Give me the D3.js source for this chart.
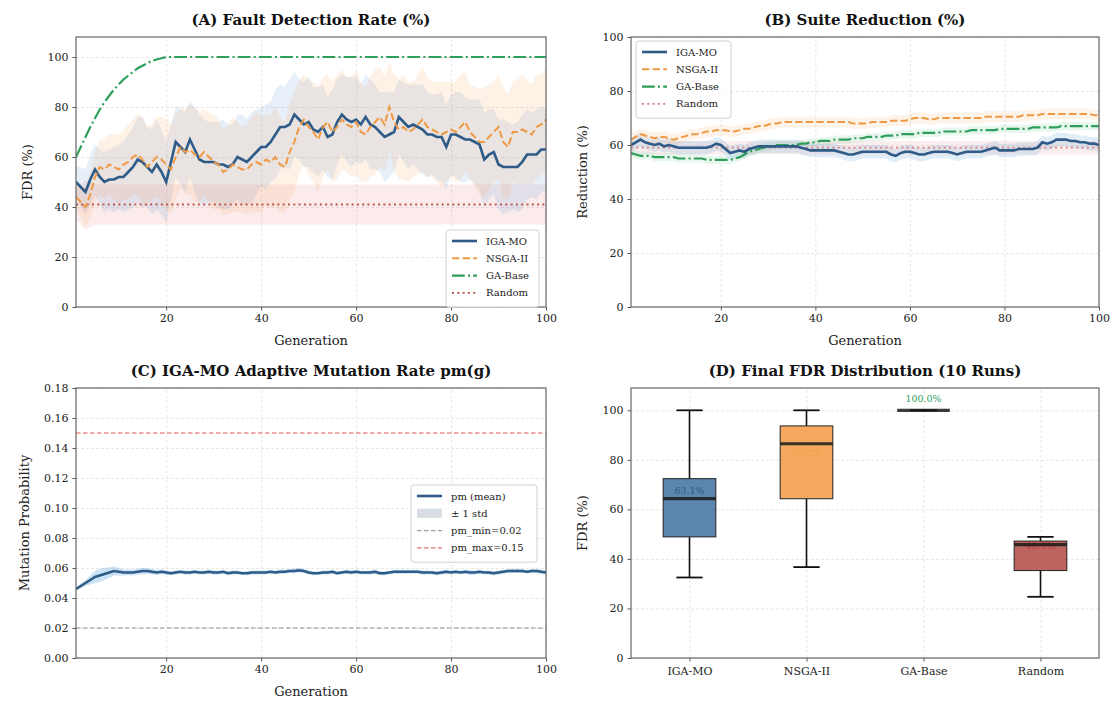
<!DOCTYPE html>
<html>
<head>
<meta charset="utf-8">
<script src="https://cdn.jsdelivr.net/npm/d3@7"></script>
<style>
  body { margin: 0; background: #fff; }
  svg { font-family: "DejaVu Serif", serif; }
</style>
</head>
<body>
<script>
// generations on the x axis
const gens = d3.range(1, 101);

// (A) fault detection rate, mean per generation
const igaFdr = [50,48,46,51,55,52,50,51,51,52, 52,54,56,59,58,56,54,57,54,50,
  58,66,64,62,67,63,59,58,58,58, 57,57,56,57,60,59,58,60,62,64,
  64,66,69,72,72,73,77,75,73,74, 71,70,72,68,69,74,77,75,74,75,
  73,76,73,72,70,68,69,70,76,74, 72,73,72,71,69,69,68,68,64,69,
  69,68,67,67,66,65,59,61,62,57, 56,56,56,56,58,61,61,61,63,63];
const nsgaFdr = [44,42,40,45,52,56,55,57,56,55, 57,58,60,61,59,56,58,60,59,57,
  55,60,64,62,63,61,60,62,60,58, 57,54,55,57,56,55,55,57,58,57,
  59,58,60,57,56,62,66,72,75,72, 70,67,72,74,70,72,75,73,72,74,
  70,69,72,74,76,73,80,74,71,72, 70,71,73,75,72,71,70,69,70,71,
  70,72,74,70,68,66,66,68,70,72, 66,64,70,70,71,70,69,72,73,75];
const igaFdrStd = [6,8,9,10,10,11,12,12,13,13, 14,15,16,17,18,16,17,18,17,16,
  15,14,15,16,15,17,18,17,16,16, 17,18,17,16,17,18,17,18,17,16,
  17,16,18,17,16,18,17,16,17,18, 17,18,17,16,18,17,16,17,18,17,
  16,17,18,17,16,18,17,16,15,16, 17,16,17,18,17,16,17,18,17,16,
  17,18,17,16,17,18,19,18,17,18, 19,18,17,18,19,18,17,18,17,16];
const nsgaFdrStd = [5,6,8,9,10,11,12,12,13,14, 14,15,15,16,17,16,15,16,17,18,
  18,17,16,17,18,19,18,17,18,19, 18,17,18,19,18,17,18,19,20,19,
  18,19,20,19,18,19,20,19,18,19, 20,21,20,19,20,21,20,19,20,21,
  20,19,20,21,20,19,18,19,20,21, 20,19,20,21,20,19,20,21,20,19,
  20,21,20,19,20,21,22,21,20,21, 22,21,20,21,22,21,20,21,20,21];
const gaFdrGens = [1,2,3,4,5,6,7,8,9,10,11,12,13,14,15,16,17,18,19,20,100];
const gaFdr = [60,64,68,72,75.5,79,82,84.5,87,89,91,92.5,94,95.5,96.5,97.5,98.5,99,99.5,100,100];
const randFdrGens = [1,2,3,4,5,6,8,10,15,20,30,40,50,60,70,80,90,100];
const randFdr = [41,41,41,41,41,41,41,41,41,41,41,41,41,41,41,41,41,41];
const randFdrStd = [6,8,10,9,8,8,8,8,8,8,8,8,8,8,8,8,8,8];

// (B) suite reduction, mean per generation
const igaRed = [60,61,62,61,60.5,60,60.5,59.5,60,59.5, 59,59,59,59,59,59,59,59.5,60.5,60,
  58.5,57,57.5,58,57.5,58.5,59,59.5,59.5,59.5, 59.5,59.5,59.5,59.5,59.5,59.5,59,58.5,58,58,
  58,58,58,58,57.5,57,56.5,56.5,57,57.5, 57.5,57.5,57.5,57.5,57.5,56.5,56,57,57.5,57.5,
  57,56.5,56.5,57,57.5,57.5,57.5,57.5,57,56.5, 57,57.5,57.5,57.5,57.5,58,58.5,59,58,58,
  58,58,58.5,58.5,58.5,58.5,59,61,60.5,61, 62,62,62,61.5,61.5,61,61,60.5,60.5,60];
const nsgaRed = [62,63,64,63.5,63,62.5,63,63,62.5,62, 62.5,63,63.5,64,64,64.5,65,65,65.5,65.5,
  65.5,65,65,65.5,66,66,66.5,67,67,67.5, 68,68,68.5,68.5,68.5,68.5,68.5,68.5,68.5,68.5,
  68.5,68.5,68.5,68.5,68.5,68.5,68.5,68,68,68, 68,68.5,68.5,68.5,68.5,69,69,69,69,69.5,
  70,70,70,69.5,69.5,70,70,70,70,70, 70,70,70,70,70,70.5,70.5,70.5,70.5,70.5,
  70.5,70.5,70.5,71,71,71,71,71.5,71.5,71.5, 71.5,71.5,71.5,71.5,71.5,71.5,71.5,71.5,71,71];
const gaRed = [57,56.5,56,56,56,55.5,55.5,55.5,55.5,55.5, 55,55,55,55,55,55,54.5,54.5,54.5,54.5,
  54.5,54.5,55,55.5,56.5,57.5,58,58.5,59,59.5, 59.5,60,60,60,60,60,60.5,60.5,61,61,
  61.5,61.5,61.5,62,62,62,62,62.5,62.5,62.5, 63,63,63,63,63.5,63.5,63.5,64,64,64,
  64,64.5,64.5,64.5,64.5,64.5,65,65,65,65, 65,65,65.5,65.5,65.5,65.5,65.5,65.5,66,66,
  66,66,66,66,66,66.5,66.5,66.5,66.5,66.5, 66.5,67,67,67,67,67,67,67,67,67];
const randRedGens = [1,100];
const randRed = [59,59];
const redStd = { iga: 2.5, nsga: 2, ga: 1.5, rand: 2.5 };

// (C) adaptive mutation rate of IGA-MO
const pmMean = [0.046,0.048,0.050,0.052,0.054,0.055,0.056,0.057,0.058,0.0575,
  0.057,0.057,0.057,0.0575,0.058,0.058,0.0575,0.057,0.0575,0.057,
  0.0565,0.057,0.0575,0.057,0.057,0.0575,0.057,0.057,0.0575,0.057,
  0.057,0.0575,0.0565,0.057,0.057,0.0565,0.0565,0.057,0.057,0.057,
  0.057,0.0575,0.057,0.0575,0.0575,0.058,0.058,0.0585,0.058,0.057,
  0.0565,0.0565,0.057,0.057,0.0575,0.0565,0.057,0.0575,0.057,0.0575,
  0.057,0.057,0.057,0.0575,0.0565,0.0565,0.057,0.0575,0.0575,0.0575,
  0.0575,0.0575,0.0575,0.057,0.057,0.057,0.0565,0.057,0.0575,0.057,
  0.0575,0.057,0.0575,0.057,0.057,0.0575,0.057,0.057,0.0565,0.057,
  0.0575,0.058,0.058,0.058,0.058,0.0575,0.058,0.058,0.0575,0.057];
const pmStd = [0.001,0.0015,0.002,0.003,0.004,0.0045,0.004,0.0035,0.003,0.0025,
  0.002,0.002,0.0018,0.002,0.0022,0.002,0.0018,0.0016,0.0015,0.0015,
  0.0013,0.0014,0.0012,0.0015,0.0013,0.0014,0.0012,0.0013,0.0015,0.0014,
  0.0013,0.0012,0.0014,0.0015,0.0013,0.0012,0.0014,0.0013,0.0015,0.0014,
  0.0013,0.0012,0.0014,0.0015,0.0013,0.0014,0.0016,0.0015,0.0013,0.0014,
  0.0013,0.0012,0.0014,0.0015,0.0013,0.0012,0.0014,0.0013,0.0015,0.0014,
  0.0013,0.0012,0.0014,0.0015,0.0013,0.0014,0.0012,0.0013,0.0015,0.0014,
  0.0013,0.0012,0.0014,0.0015,0.0013,0.0012,0.0014,0.0013,0.0015,0.0014,
  0.0013,0.0012,0.0014,0.0015,0.0013,0.0014,0.0012,0.0013,0.0015,0.0014,
  0.0013,0.0012,0.0014,0.0015,0.0013,0.0012,0.0014,0.0013,0.0015,0.0014];
const pmMin = 0.02, pmMax = 0.15;

// (D) final FDR over 10 runs
const methods = ['IGA-MO', 'NSGA-II', 'GA-Base', 'Random'];
const boxLo  = [32.5, 36.7, 100, 24.7];
const boxQ1  = [48.9, 64.3, 100, 35.3];
const boxMed = [64.3, 86.5, 100, 45.8];
const boxQ3  = [72.4, 93.7, 100, 47.2];
const boxHi  = [100, 100, 100, 48.9];
const boxMean = [63.1, 78.2, 100.0, 40.9];

const colors = { iga: '#2E5B88', nsga: '#EE9A45', ga: '#2E9E5B', rand: '#B5473A' };
const boxFill = ['#4B79A5', '#F3A04C', '#3AA267', '#B5534B'];

let svg, frame, drawSeries, legend, clipId = 0;

svg = d3.select('body').append('svg')
  .attr('width', 1115)
  .attr('height', 704);

// axes box, grid, ticks, labels
frame = (o, x, y, xTicks, yTicks, yFmt) => {
  let g = svg.append('g');
  let w = o.w, h = o.h;
  g.append('g')
    .attr('transform', `translate(0,${o.top + h})`)
    .call(d3.axisBottom(x).tickValues(xTicks).tickSize(-h).tickFormat(''))
    .call(a => a.select('.domain').remove())
    .selectAll('line').attr('stroke', '#b0b0b0').attr('stroke-opacity', 0.3).attr('stroke-dasharray', '3,2');
  g.append('g')
    .attr('transform', `translate(${o.left},0)`)
    .call(d3.axisLeft(y).tickValues(yTicks).tickSize(-w).tickFormat(''))
    .call(a => a.select('.domain').remove())
    .selectAll('line').attr('stroke', '#b0b0b0').attr('stroke-opacity', 0.3).attr('stroke-dasharray', '3,2');

  let content = svg.append('g');
  clipId++;
  svg.append('clipPath').attr('id', 'clip' + clipId)
    .append('rect').attr('x', o.left).attr('y', o.top).attr('width', w).attr('height', h);
  content.attr('clip-path', `url(#clip${clipId})`);

  let top = svg.append('g');
  let xa = top.append('g')
    .attr('transform', `translate(0,${o.top + h})`)
    .call(d3.axisBottom(x).tickValues(xTicks).tickSize(3.5).tickSizeOuter(0).tickPadding(4));
  let ya = top.append('g')
    .attr('transform', `translate(${o.left},0)`)
    .call(d3.axisLeft(y).tickValues(yTicks).tickSize(3.5).tickSizeOuter(0).tickPadding(4).tickFormat(yFmt));
  [xa, ya].forEach(a => {
    a.select('.domain').remove();
    a.selectAll('line').attr('stroke', '#555');
    a.selectAll('text').attr('font-family', '"DejaVu Serif", serif').attr('font-size', 11).attr('fill', '#222');
  });
  top.append('rect')
    .attr('x', o.left).attr('y', o.top).attr('width', w).attr('height', h)
    .attr('fill', 'none').attr('stroke', '#666').attr('stroke-width', 1.2);

  top.append('text')
    .attr('x', o.left + w / 2).attr('y', o.top - 12)
    .attr('text-anchor', 'middle').attr('font-size', 15).attr('font-weight', 'bold')
    .attr('fill', '#111').text(o.title);
  if (o.xlabel) {
    top.append('text')
      .attr('x', o.left + w / 2).attr('y', o.top + h + 38)
      .attr('text-anchor', 'middle').attr('font-size', 13).attr('fill', '#222').text(o.xlabel);
  }
  top.append('text')
    .attr('transform', `translate(${o.ylx},${o.top + h / 2}) rotate(-90)`)
    .attr('text-anchor', 'middle').attr('font-size', 13).attr('fill', '#222').text(o.ylabel);
  return { content: content, top: top };
};

drawSeries = (g, x, y, s) => {
  let pts = s.gens.map((d, i) => ({ g: d, m: s.mean[i], sd: s.std ? s.std[i] : null }));
  if (s.std) {
    g.append('path')
      .datum(pts)
      .attr('d', d3.area().x(d => x(d.g)).y0(d => y(d.m - d.sd)).y1(d => y(d.m + d.sd)))
      .attr('fill', s.band || s.color)
      .attr('fill-opacity', s.bandOpacity || 0.15);
  }
  if (!s.width) return;
  g.append('path')
    .datum(pts)
    .attr('d', d3.line().x(d => x(d.g)).y(d => y(d.m)))
    .attr('fill', 'none')
    .attr('stroke', s.color)
    .attr('stroke-width', s.width)
    .attr('stroke-opacity', s.opacity || 1)
    .attr('stroke-dasharray', s.dash || null);
};

legend = (x0, y0, bw, items) => {
  let lg = svg.append('g').attr('transform', `translate(${x0},${y0})`);
  lg.append('rect')
    .attr('width', bw).attr('height', items.length * 17.3 + 8)
    .attr('rx', 3).attr('fill', '#fff').attr('fill-opacity', 0.8)
    .attr('stroke', '#d0d0d0');
  items.forEach((it, i) => {
    let cy = 11 + i * 17.3;
    if (it.patch) {
      lg.append('rect').attr('x', 6).attr('y', cy - 4.5).attr('width', 25).attr('height', 9)
        .attr('fill', it.patch);
    } else {
      lg.append('line').attr('x1', 6).attr('x2', 31).attr('y1', cy).attr('y2', cy)
        .attr('stroke', it.color).attr('stroke-width', it.width)
        .attr('stroke-opacity', it.opacity || 1)
        .attr('stroke-dasharray', it.dash || null);
    }
    lg.append('text').attr('x', 40).attr('y', cy + 3.5)
      .attr('font-size', 10).attr('fill', '#222').text(it.name);
  });
};

const dashed = '7.4,3.2', dashdot = '12.8,3.2,2,3.2', dotted = '2,3.3';

// ---- (A)
let pA = { left: 76, top: 37, w: 470, h: 270, title: '(A) Fault Detection Rate (%)', xlabel: 'Generation', ylabel: 'FDR (%)', ylx: 32 };
let xA = d3.scaleLinear().domain([1, 100]).range([pA.left, pA.left + pA.w]);
let yA = d3.scaleLinear().domain([0, 108]).range([pA.top + pA.h, pA.top]);
let fA = frame(pA, xA, yA, [20, 40, 60, 80, 100], [0, 20, 40, 60, 80, 100], d3.format('d'));
drawSeries(fA.content, xA, yA, { gens: randFdrGens, mean: randFdr, std: randFdrStd, band: '#e07070', bandOpacity: 0.14 });
drawSeries(fA.content, xA, yA, { gens: gens, mean: igaFdr, std: igaFdrStd, band: '#5b9bd5', bandOpacity: 0.15 });
drawSeries(fA.content, xA, yA, { gens: gens, mean: nsgaFdr, std: nsgaFdrStd, band: '#f5a055', bandOpacity: 0.15 });
drawSeries(fA.content, xA, yA, { gens: gaFdrGens, mean: gaFdr, color: colors.ga, width: 2.2, dash: dashdot });
drawSeries(fA.content, xA, yA, { gens: randFdrGens, mean: randFdr, color: colors.rand, width: 1.8, dash: dotted, opacity: 0.9 });
drawSeries(fA.content, xA, yA, { gens: gens, mean: igaFdr, color: colors.iga, width: 2.6 });
drawSeries(fA.content, xA, yA, { gens: gens, mean: nsgaFdr, color: colors.nsga, width: 2, dash: dashed });
legend(446, 230, 93, [
  { name: 'IGA-MO', color: colors.iga, width: 2.6 },
  { name: 'NSGA-II', color: colors.nsga, width: 2, dash: dashed },
  { name: 'GA-Base', color: colors.ga, width: 2.2, dash: dashdot },
  { name: 'Random', color: colors.rand, width: 1.8, dash: dotted }
]);

// ---- (B)
let pB = { left: 631, top: 37, w: 468, h: 270, title: '(B) Suite Reduction (%)', xlabel: 'Generation', ylabel: 'Reduction (%)', ylx: 587 };
let xB = d3.scaleLinear().domain([1, 100]).range([pB.left, pB.left + pB.w]);
let yB = d3.scaleLinear().domain([0, 100]).range([pB.top + pB.h, pB.top]);
let fB = frame(pB, xB, yB, [20, 40, 60, 80, 100], [0, 20, 40, 60, 80, 100], d3.format('d'));
let bandOf = (m, s) => m.map(() => s);
drawSeries(fB.content, xB, yB, { gens: randRedGens, mean: randRed, std: bandOf(randRed, redStd.rand), band: '#e07070', bandOpacity: 0.12 });
drawSeries(fB.content, xB, yB, { gens: gens, mean: igaRed, std: bandOf(igaRed, redStd.iga), band: '#5b9bd5', bandOpacity: 0.18 });
drawSeries(fB.content, xB, yB, { gens: gens, mean: nsgaRed, std: bandOf(nsgaRed, redStd.nsga), band: '#f5a055', bandOpacity: 0.13 });
drawSeries(fB.content, xB, yB, { gens: gens, mean: gaRed, std: bandOf(gaRed, redStd.ga), band: '#4cc27a', bandOpacity: 0.13 });
drawSeries(fB.content, xB, yB, { gens: randRedGens, mean: randRed, color: '#d9787a', width: 1.8, dash: dotted, opacity: 0.9 });
drawSeries(fB.content, xB, yB, { gens: gens, mean: gaRed, color: colors.ga, width: 2.2, dash: dashdot });
drawSeries(fB.content, xB, yB, { gens: gens, mean: nsgaRed, color: colors.nsga, width: 2, dash: dashed });
drawSeries(fB.content, xB, yB, { gens: gens, mean: igaRed, color: colors.iga, width: 2.6 });
legend(636, 41, 95, [
  { name: 'IGA-MO', color: colors.iga, width: 2.6 },
  { name: 'NSGA-II', color: colors.nsga, width: 2, dash: dashed },
  { name: 'GA-Base', color: colors.ga, width: 2.2, dash: dashdot },
  { name: 'Random', color: '#d9787a', width: 1.8, dash: dotted }
]);

// ---- (C)
let pC = { left: 76, top: 388, w: 470, h: 270, title: '(C) IGA-MO Adaptive Mutation Rate pm(g)', xlabel: 'Generation', ylabel: 'Mutation Probability', ylx: 29 };
let xC = d3.scaleLinear().domain([1, 100]).range([pC.left, pC.left + pC.w]);
let yC = d3.scaleLinear().domain([0, 0.18]).range([pC.top + pC.h, pC.top]);
let fC = frame(pC, xC, yC, [20, 40, 60, 80, 100], d3.range(0, 0.181, 0.02), d3.format('.2f'));
[[pmMin, '#a0a0a0'], [pmMax, '#e57373']].forEach(r => {
  fC.content.append('line')
    .attr('x1', pC.left).attr('x2', pC.left + pC.w)
    .attr('y1', yC(r[0])).attr('y2', yC(r[0]))
    .attr('stroke', r[1]).attr('stroke-width', 1.3).attr('stroke-opacity', 0.8)
    .attr('stroke-dasharray', '4.5,2.5');
});
drawSeries(fC.content, xC, yC, { gens: gens, mean: pmMean, std: pmStd, band: '#6aaee0', bandOpacity: 0.35 });
drawSeries(fC.content, xC, yC, { gens: gens, mean: pmMean, color: colors.iga, width: 2.6 });
legend(411, 485, 126, [
  { name: 'pm (mean)', color: colors.iga, width: 2.6 },
  { name: '± 1 std', patch: '#d8dde3' },
  { name: 'pm_min=0.02', color: '#a0a0a0', width: 1.3, dash: '4.5,2.5' },
  { name: 'pm_max=0.15', color: '#e57373', width: 1.3, dash: '4.5,2.5' }
]);

// ---- (D)
let pD = { left: 631, top: 388, w: 468, h: 270, title: '(D) Final FDR Distribution (10 Runs)', ylabel: 'FDR (%)', ylx: 587 };
let xD = d3.scaleBand().domain(methods).range([pD.left, pD.left + pD.w]).padding(0);
let xDc = d3.scalePoint().domain(methods).range([pD.left + xD.bandwidth() / 2, pD.left + pD.w - xD.bandwidth() / 2]);
let yD = d3.scaleLinear().domain([0, 109]).range([pD.top + pD.h, pD.top]);
let fD = frame(pD, xDc, yD, methods, [0, 20, 40, 60, 80, 100], d3.format('d'));
fD.top.selectAll('text').filter(function () { return methods.includes(d3.select(this).text()); })
  .attr('dy', '0.9em');
let bw = xD.bandwidth() * 0.45;
let boxG = svg.append('g');
methods.forEach((m, i) => {
  let cx = xDc(m);
  let seg = (x1, x2, y1, y2, sw) => boxG.append('line')
    .attr('x1', x1).attr('x2', x2).attr('y1', y1).attr('y2', y2)
    .attr('stroke', '#111').attr('stroke-width', sw);
  seg(cx, cx, yD(boxLo[i]), yD(boxQ1[i]), 1.6);
  seg(cx, cx, yD(boxQ3[i]), yD(boxHi[i]), 1.6);
  seg(cx - bw / 4, cx + bw / 4, yD(boxLo[i]), yD(boxLo[i]), 1.8);
  seg(cx - bw / 4, cx + bw / 4, yD(boxHi[i]), yD(boxHi[i]), 1.8);
  boxG.append('rect')
    .attr('x', cx - bw / 2).attr('width', bw)
    .attr('y', yD(boxQ3[i])).attr('height', yD(boxQ1[i]) - yD(boxQ3[i]))
    .attr('fill', boxFill[i]).attr('fill-opacity', 0.9)
    .attr('stroke', '#222').attr('stroke-width', 1);
  // mean label, in the series colour (hardly visible on its own box)
  boxG.append('text')
    .attr('x', cx).attr('y', yD(boxMean[i] + 4.5)).attr('dy', '0.35em')
    .attr('text-anchor', 'middle').attr('font-size', 9.5)
    .attr('fill', Object.values(colors)[i]).attr('fill-opacity', i === 1 ? 0.6 : 1)
    .text(d3.format('.1f')(boxMean[i]) + '%');
  seg(cx - bw / 2, cx + bw / 2, yD(boxMed[i]), yD(boxMed[i]), 3.2)
    .attr('stroke', '#1a1a1a').attr('stroke-opacity', 0.85);
});
</script>
</body>
</html>
